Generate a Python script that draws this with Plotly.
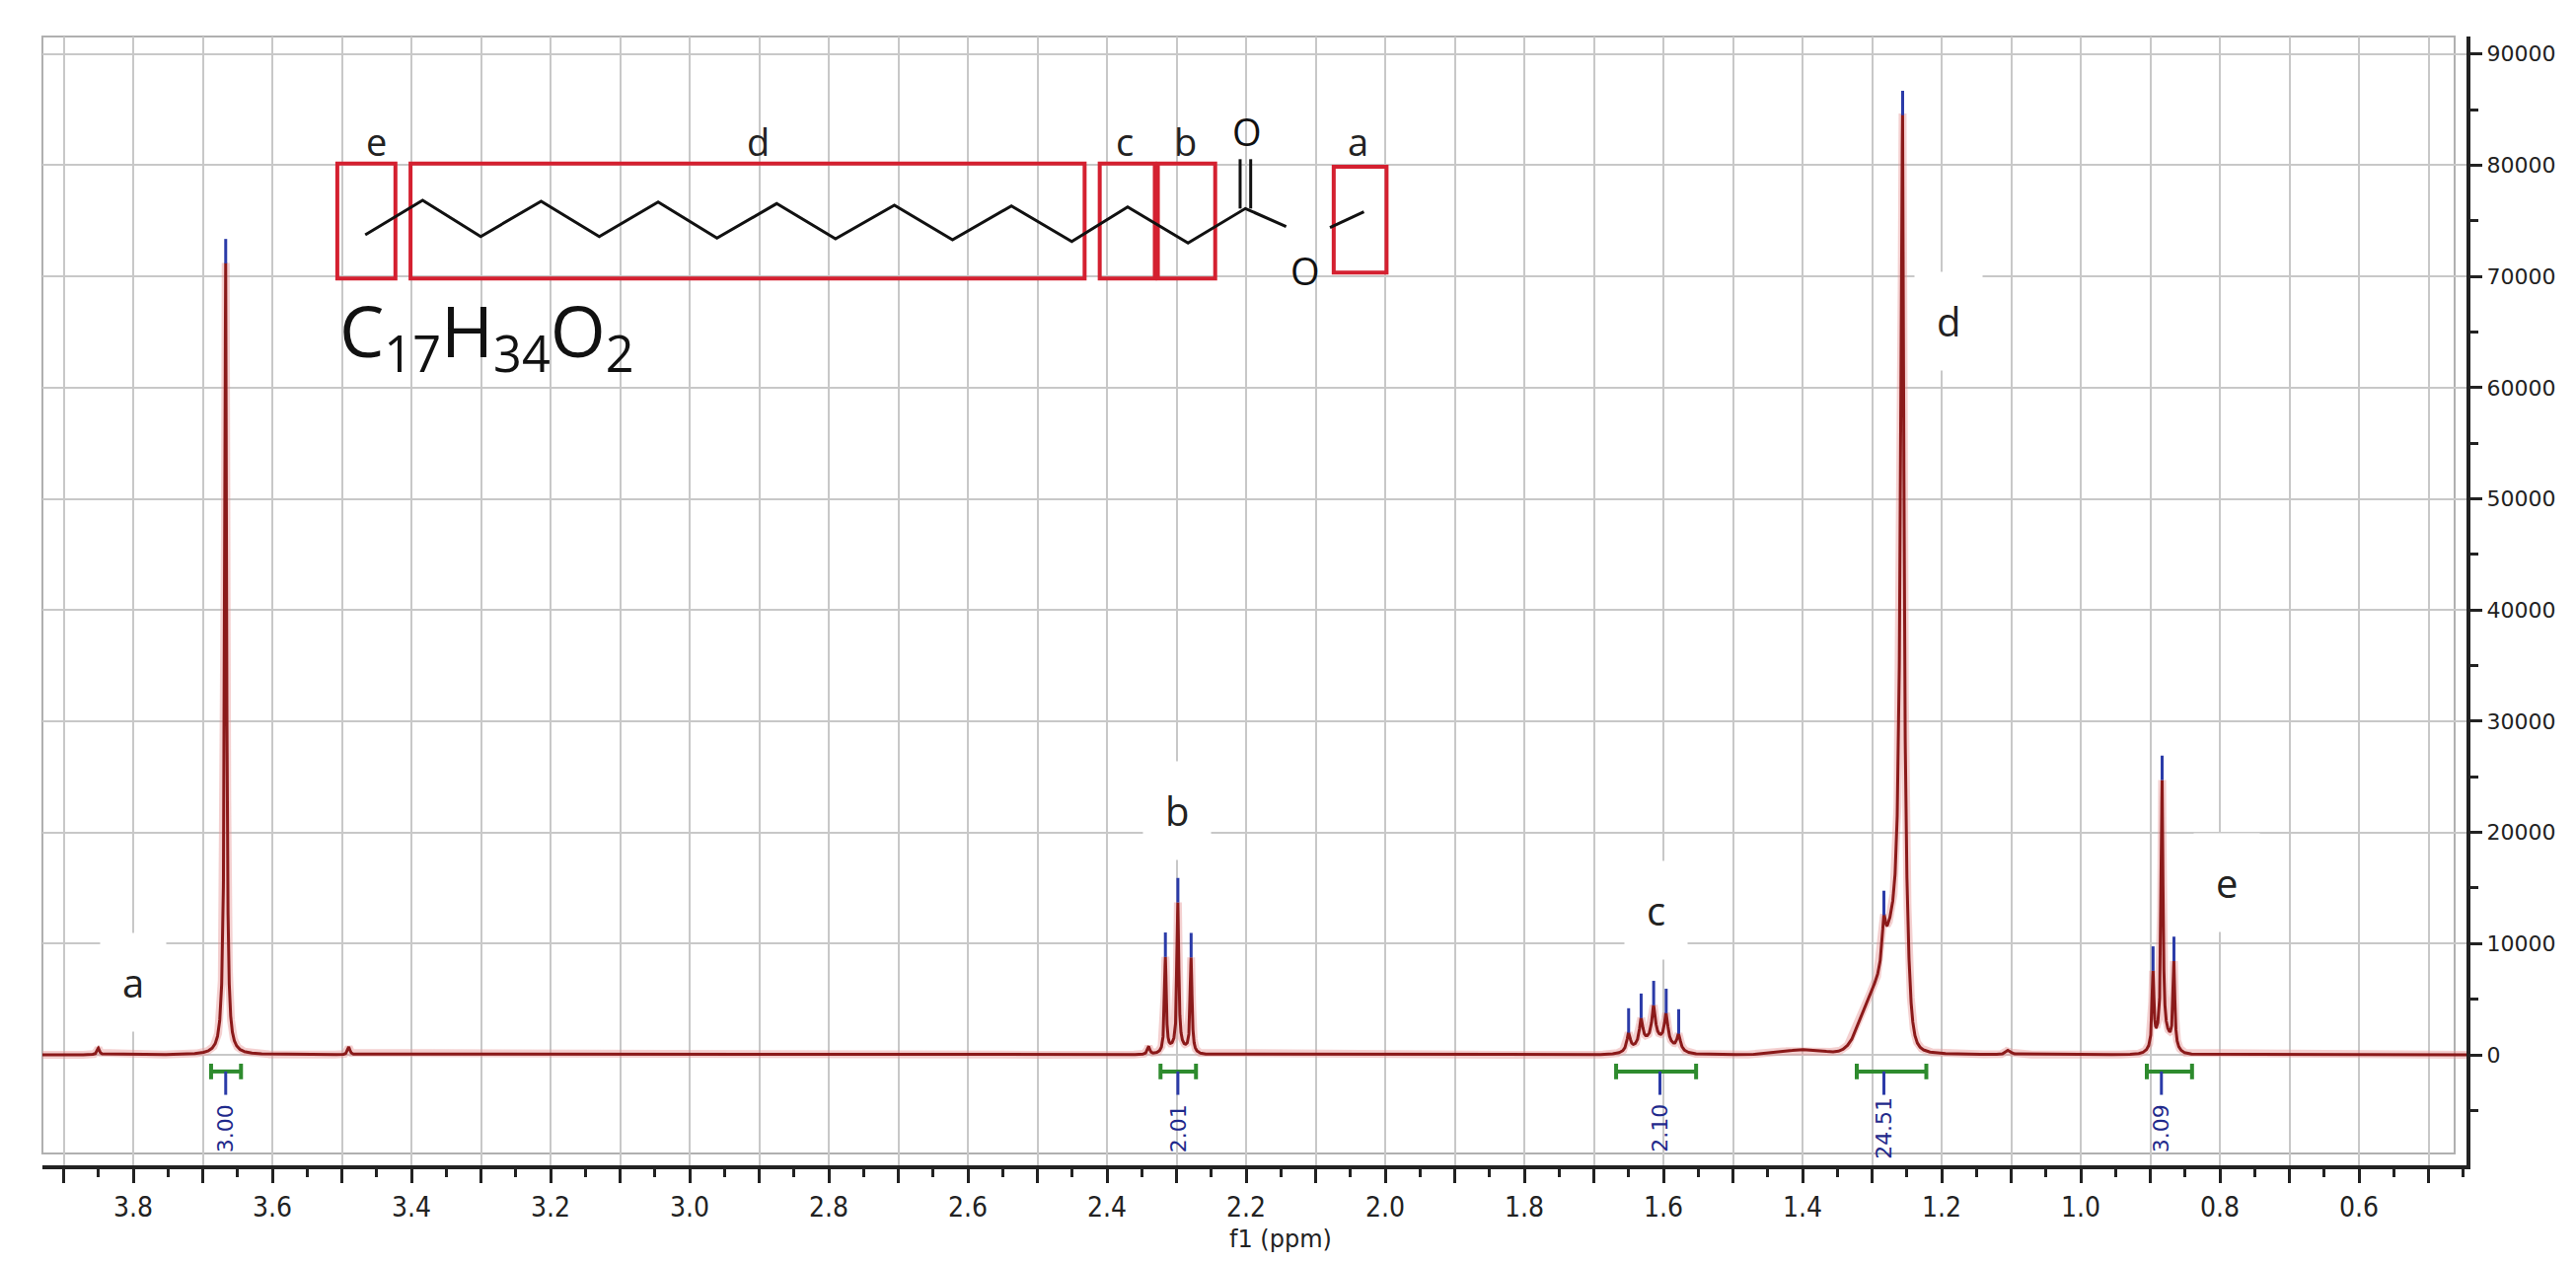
import numpy as np
import plotly.graph_objects as go

# ---- data ----
peak_ppm = [3.85, 3.669, 3.667, 3.49, 2.34, 2.316, 2.298, 2.279,
            1.650, 1.632, 1.614, 1.596, 1.578,
            1.283, 1.259, 1.256, 1.104,
            0.896, 0.883, 0.866]
peak_height = [600, 4000, 68000, 700, 700, 8500, 13000, 8500,
               1600, 2300, 3000, 2600, 1400,
               3500, 15000, 62000, 400,
               6500, 23000, 7500]
peak_width = [0.002, 0.004, 0.0015, 0.002, 0.002, 0.0015, 0.0015, 0.0015,
              0.003, 0.003, 0.003, 0.003, 0.003,
              0.003, 0.003, 0.002, 0.004,
              0.0015, 0.0015, 0.0015]
broad_ppm = [2.298, 1.612, 1.295, 1.268, 1.256, 0.881, 1.398]
broad_height = [600, 1300, 5500, 8500, 9000, 1600, 450]
broad_sigma = [0.012, 0.022, 0.02, 0.012, 0.006, 0.012, 0.03]
marked_ppm = [3.667, 2.316, 2.298, 2.279, 1.650, 1.632, 1.614, 1.596, 1.578,
              1.283, 1.256, 0.896, 0.883, 0.866]

integral_lo = [3.645, 2.272, 1.553, 1.222, 0.84]
integral_hi = [3.688, 2.323, 1.668, 1.322, 0.905]
integral_mid = [3.667, 2.298, 1.605, 1.283, 0.884]
integral_txt = ["3.00", "2.01", "2.10", "24.51", "3.09"]

letters = ["a", "b", "c", "d", "e"]
letter_ppm = [3.80, 2.30, 1.61, 1.19, 0.79]
letter_val = [6500, 22000, 13000, 66000, 15500]

xticks = [round(3.9 - 0.1 * i, 1) for i in range(35)]
yticks = list(range(0, 90001, 10000))

# ---- layout geometry (pixels) ----
W, H = 2611, 1280
L, R, T, B = 35, 2492, 29, 1173
def px2ppm(px): return 3.8 - (px - 127) / 705.0
def py2val(py): return (1061 - py) / 11.27 * 1000
def xp(px): return (px - L) / (R - L)
def yp(py): return (B - py) / (B - T)

x = np.linspace(px2ppm(R), px2ppm(L), 40000)
y = np.zeros_like(x)
for p, h, w in zip(peak_ppm, peak_height, peak_width):
    y += h * w**2 / ((x - p)**2 + w**2)
for p, h, s in zip(broad_ppm, broad_height, broad_sigma):
    y += h * np.exp(-0.5 * ((x - p) / s)**2)

fig = go.Figure()
fig.add_trace(go.Scatter(x=x, y=y, mode="lines", line=dict(color="rgba(230,150,150,0.45)", width=8), hoverinfo="skip"))
fig.add_trace(go.Scatter(x=x, y=y, mode="lines", line=dict(color="#8B1A1A", width=3), hoverinfo="skip"))

mx, my = [], []
for p in marked_ppm:
    v = float(np.interp(p, x, y))
    mx += [p, p, None]; my += [v, v + 2200, None]
fig.add_trace(go.Scatter(x=mx, y=my, mode="lines", line=dict(color="#2B3BA8", width=3), hoverinfo="skip"))

shapes = []
annotations = []
for lo, hi, mid, t in zip(integral_lo, integral_hi, integral_mid, integral_txt):
    g = "#2E8B2E"
    shapes.append(dict(type="line", x0=lo, x1=hi, y0=-1500, y1=-1500, line=dict(color=g, width=4)))
    for e in (lo, hi):
        shapes.append(dict(type="line", x0=e, x1=e, y0=-800, y1=-2200, line=dict(color=g, width=4)))
    shapes.append(dict(type="line", x0=mid, x1=mid, y0=-1500, y1=-3600, line=dict(color="#2B3BA8", width=3)))
    annotations.append(dict(x=mid, y=-6600, text=t, textangle=-90, showarrow=False,
                            font=dict(color="#1F2A8C", size=22, family="DejaVu Sans")))

shapes.append(dict(type="rect", xref="paper", yref="paper", x0=xp(2480), x1=1, y0=0, y1=1,
                   fillcolor="white", line_width=0, layer="between"))
shapes.append(dict(type="rect", xref="paper", yref="paper", x0=0, x1=1, y0=0, y1=yp(1161),
                   fillcolor="white", line_width=0, layer="between"))
shapes.append(dict(type="rect", xref="paper", yref="paper", x0=0, x1=xp(2480), y0=yp(1161), y1=1,
                   line=dict(color="#b0b0b0", width=2), layer="between"))

for t, p, v in zip(letters, letter_ppm, letter_val):
    annotations.append(dict(x=p, y=v, text=t, showarrow=False, bgcolor="white", borderpad=22,
                            font=dict(size=40, color="#222", family="Open Sans")))

# structure
def zx(v): return 200 + v / 1.307
def zy(v): return 30 + v / 3
shapes.append(dict(type="rect", xref="paper", yref="paper", x0=xp(zx(140)), x1=xp(1410),
                   y0=yp(zy(750)), y1=yp(zy(190)), fillcolor="white", line_width=0, layer="between"))
shapes.append(dict(type="rect", xref="paper", yref="paper", x0=xp(zx(140)), x1=xp(zx(560)),
                   y0=yp(345), y1=yp(zy(750)), fillcolor="white", line_width=0, layer="between"))
boxes = [(175, 252, 383, 733), (272, 1165, 383, 733), (1185, 1258, 383, 733),
         (1262, 1338, 383, 733), (1495, 1565, 393, 715)]
for a, b, c, d in boxes:
    shapes.append(dict(type="rect", xref="paper", yref="paper", x0=xp(zx(a)), x1=xp(zx(b)),
                       y0=yp(zy(d)), y1=yp(zy(c)), line=dict(color="#D42030", width=4)))
zig = [(212, 600), (288, 495), (365, 605), (445, 498), (522, 605), (600, 500), (678, 610),
       (757, 505), (835, 612), (913, 510), (990, 615), (1068, 512), (1148, 620), (1222, 515),
       (1302, 625), (1378, 520), (1432, 575)]
path = "M " + " L ".join(f"{xp(zx(a)):.5f},{yp(zy(b)):.5f}" for a, b in zig)
shapes.append(dict(type="path", xref="paper", yref="paper", path=path, line=dict(color="#111", width=3)))
for dx in (-7, 7):
    shapes.append(dict(type="line", xref="paper", yref="paper", x0=xp(zx(1378 + dx)), x1=xp(zx(1378 + dx)),
                       y0=yp(zy(520)), y1=yp(zy(370)), line=dict(color="#111", width=3)))
shapes.append(dict(type="line", xref="paper", yref="paper", x0=xp(zx(1490)), x1=xp(zx(1535)),
                   y0=yp(zy(578)), y1=yp(zy(530)), line=dict(color="#111", width=3)))
annotations.append(dict(xref="paper", yref="paper", x=xp(zx(1380)), y=yp(zy(370)), yanchor="bottom",
                        text="O", showarrow=False, font=dict(size=38, color="#111", family="Open Sans")))
annotations.append(dict(xref="paper", yref="paper", x=xp(zx(1457)), y=yp(zy(625)), text="O",
                        showarrow=False, font=dict(size=38, color="#111", family="Open Sans")))
for t, a in zip(["e", "d", "c", "b", "a"], [210, 715, 1218, 1298, 1527]):
    annotations.append(dict(xref="paper", yref="paper", x=xp(zx(a)), y=yp(zy(230)), text=t,
                            showarrow=False, font=dict(size=38, color="#222", family="Open Sans")))
annotations.append(dict(xref="paper", yref="paper", x=xp(zx(175)), y=yp(275), xanchor="left",
                        text="C<sub>17</sub>H<sub>34</sub>O<sub>2</sub>", showarrow=False,
                        font=dict(size=72, color="#111", family="Open Sans")))
annotations.append(dict(xref="paper", yref="paper", x=xp(1290), y=yp(1264), text="f1 (ppm)",
                        showarrow=False, font=dict(size=24, color="#222", family="DejaVu Sans")))

fig.update_layout(
    width=W, height=H, plot_bgcolor="white", paper_bgcolor="white", showlegend=False,
    margin=dict(l=L, r=W - R, t=T, b=H - B),
    shapes=shapes, annotations=annotations,
    xaxis=dict(range=[px2ppm(L), px2ppm(R)], tickmode="array", tickvals=xticks,
               ticktext=[(f"{v:.1f}" if round(v * 10) % 2 == 0 else "") for v in xticks],
               ticks="outside", ticklen=14, tickwidth=3, tickcolor="#222",
               showline=True, linecolor="#222", linewidth=4,
               showgrid=True, gridcolor="#c8c8c8", gridwidth=2, zeroline=False,
               minor=dict(dtick=0.05, tick0=0, ticks="outside", ticklen=8, tickwidth=3, tickcolor="#222", showgrid=False),
               tickfont=dict(size=28, color="#222", family="DejaVu Sans Condensed, DejaVu Sans")),
    yaxis=dict(range=[py2val(B), py2val(T)], side="right", tickmode="array", tickvals=yticks,
               ticktext=[str(v) for v in yticks],
               ticks="outside", ticklen=12, tickwidth=3, tickcolor="#222",
               showline=True, linecolor="#222", linewidth=4,
               showgrid=True, gridcolor="#c8c8c8", gridwidth=2, zeroline=False,
               minor=dict(dtick=5000, tick0=0, ticks="outside", ticklen=8, tickwidth=3, tickcolor="#222", showgrid=False),
               tickfont=dict(size=22, color="#222", family="DejaVu Sans")),
)
fig.write_html("out.html")
